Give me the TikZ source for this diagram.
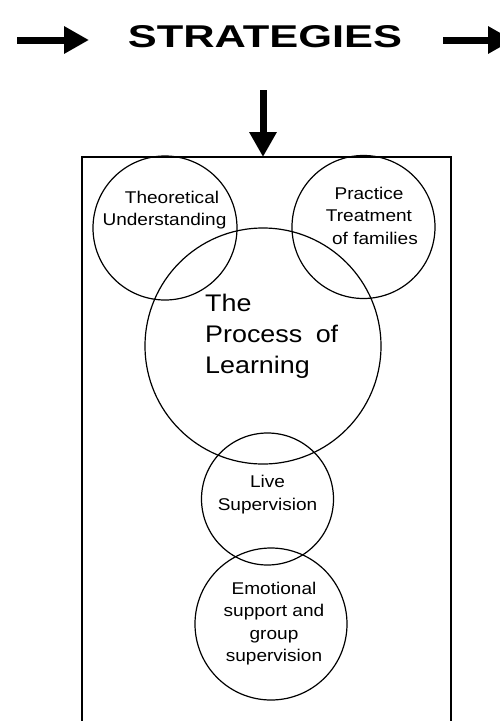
\documentclass[tikz,border=0pt]{standalone}
\usepackage{fontspec}
\setmainfont{Liberation Sans}
\newfontfamily\widefont[FakeStretch=1.12]{Liberation Sans}
\usetikzlibrary{arrows.meta}
\tikzset{
  ring/.style={circle, draw, line width=1.2pt, inner sep=0pt},
  small/.style={font=\widefont\fontsize{17}{22.5}\selectfont, align=center, inner sep=0pt},
  big/.style={font=\widefont\fontsize{24}{31}\selectfont, align=left, inner sep=0pt},
  fatarrow/.style={line width=7pt, -{Triangle[length=25pt,width=26pt]}},
  frame/.style={line width=1.2pt}
}
\begin{document}
\begin{tikzpicture}[x=1pt,y=-1pt]
\useasboundingbox (0,0) rectangle (500,721);
% title
\node[inner sep=0pt] (title) at (265,36.5) {\resizebox{274pt}{22pt}{\bfseries STRATEGIES}};
\coordinate (lstart) at (17,40);
\coordinate (lend) at (89,40);
\coordinate (rstart) at (443,40);
\coordinate (rend) at (513,40);
\draw[fatarrow] (lstart) -- (lend);
\draw[fatarrow] (rstart) -- (rend);
% frame
\coordinate (boxtop) at (263,157);
\coordinate (dstart) at (263,90);
\draw[frame] (82,721) -- (82,157) -- (451,157) -- (451,721);
\draw[fatarrow] (dstart) -- (boxtop);
% circles
\node[ring, minimum size=144pt] (theo) at (165,228) {};
\node[ring, minimum size=143pt] (prac) at (363.5,227) {};
\node[ring, minimum size=236pt] (proc) at (263,346) {};
\node[ring, minimum size=132pt] (live) at (267.5,499) {};
\node[ring, minimum size=152pt] (emo) at (271,624) {};
% texts
\node[small] (theoT) at (164.5,210) {\hspace*{15pt}Theoretical\\Understanding};
\node[small] (pracT) at (369,215.5) {Practice\\Treatment\\\hspace*{12pt}of families};
\node[big, anchor=west] (procT) at (205,336) {The\\Process\hspace{6pt} of\\Learning};
\node[small] (liveT) at (267.5,494.5) {Live\\Supervision};
\node[small] (emoT) at (274,623.5) {Emotional\\support and\\group\\supervision};
\end{tikzpicture}
\end{document}
